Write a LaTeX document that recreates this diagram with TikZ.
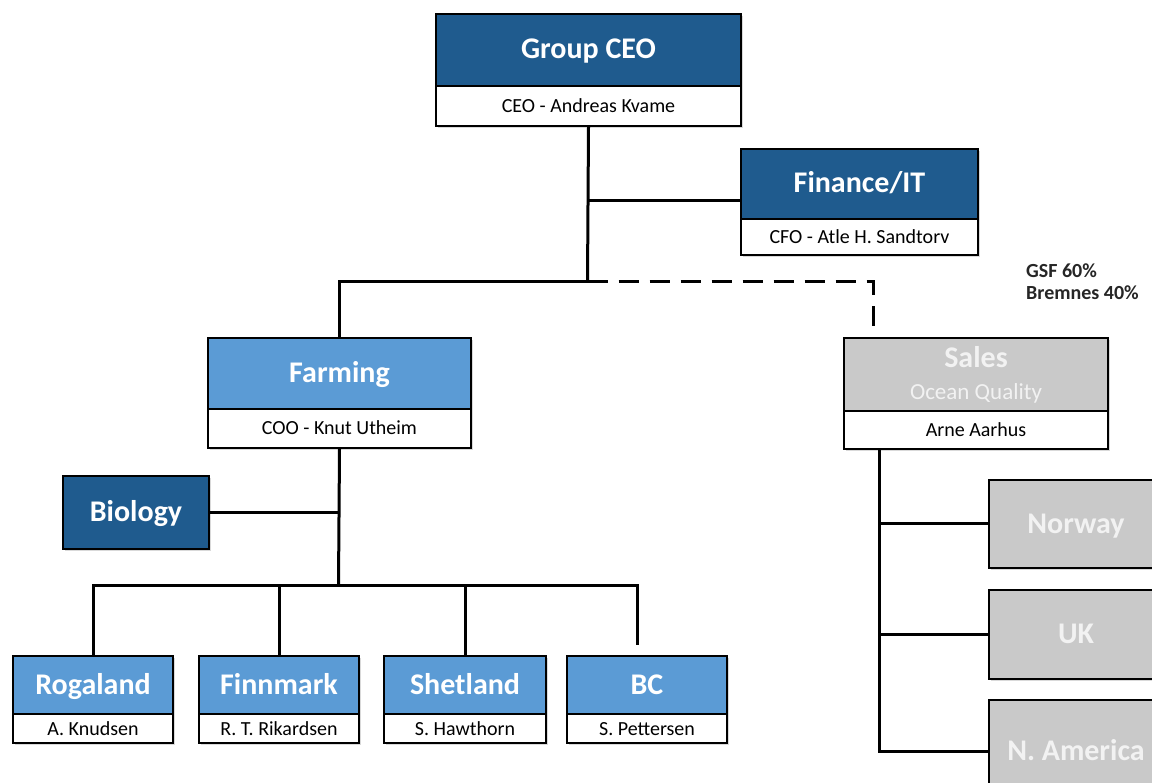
\documentclass[tikz,border=0pt]{standalone}
\usepackage{fontspec}
\setmainfont{Carlito}
\usetikzlibrary{positioning}
\usetikzlibrary{shadows}
\definecolor{navy}{RGB}{31,91,142}
\definecolor{sky}{RGB}{91,155,213}
\definecolor{silver}{RGB}{201,201,201}
\definecolor{paletext}{RGB}{242,242,242}

\begin{document}
\begin{tikzpicture}[x=1pt,y=-1pt,
  box/.style={draw=black, line width=2pt, inner sep=0pt, align=center,
    drop shadow={shadow xshift=2pt, shadow yshift=-2pt, opacity=0.3}},
  panel/.style={box, fill=#1, text=white, anchor=north west,
    font=\fontsize{30}{34}\selectfont\bfseries},
  unitbox/.style={panel=#1, text height=22pt, text depth=4pt},
  persbox/.style={box, fill=white, text=black, text height=15pt, text depth=2pt,
    font=\fontsize{20}{24}\selectfont},
  wire/.style={line width=3pt},
  dashwire/.style={wire, dash pattern=on 20pt off 11pt},
]

\useasboundingbox (0,0) rectangle (1152,783);
\clip (0,0) rectangle (1152,783);

%---------------------------------------
% Top: group management
%---------------------------------------
\node[unitbox=navy, minimum width=305pt, minimum height=72pt] (ceo) at (435,13) {Group CEO};
\node[persbox, minimum width=305pt, minimum height=40pt, below=-2pt of ceo] (ceoname) {CEO - Andreas Kvame};

\node[unitbox=navy, minimum width=237pt, minimum height=70pt] (finance) at (740,148) {Finance/IT};
\node[persbox, minimum width=237pt, minimum height=36pt, below=-2pt of finance] (financename) {CFO - Atle H. Sandtorv};

%---------------------------------------
% Farming and Sales
%---------------------------------------
\node[unitbox=sky, minimum width=263pt, minimum height=71pt] (farming) at (207,337) {Farming};
\node[persbox, minimum width=263pt, minimum height=39pt, below=-2pt of farming] (farmingname) {COO - Knut Utheim};

\node[panel=silver, text=paletext, minimum width=264pt, minimum height=73pt] (sales) at (843,337)
  {Sales\\[-2pt]{\fontsize{23}{26}\selectfont\mdseries Ocean Quality}};
\node[persbox, minimum width=264pt, minimum height=38pt, below=-2pt of sales] (salesname) {Arne Aarhus};

\node[anchor=north west, align=left, inner sep=0pt, text=black!85,
  font=\fontsize{20}{22}\selectfont\bfseries] (owners) at (1026,264) {GSF 60\%\\Bremnes 40\%};

\node[unitbox=navy, minimum width=146pt, minimum height=73pt] (biology) at (62,475) {Biology};

%---------------------------------------
% Regions
%---------------------------------------
\node[unitbox=sky, minimum width=160pt, minimum height=58pt] (rogaland) at (12,655) {Rogaland};
\node[persbox, minimum width=160pt, minimum height=29pt, below=-2pt of rogaland] (rogalandname) {A. Knudsen};

\node[unitbox=sky, minimum width=160pt, minimum height=58pt] (finnmark) at (198,655) {Finnmark};
\node[persbox, minimum width=160pt, minimum height=29pt, below=-2pt of finnmark] (finnmarkname) {R. T. Rikardsen};

\node[unitbox=sky, minimum width=162pt, minimum height=58pt] (shetland) at (383,655) {Shetland};
\node[persbox, minimum width=162pt, minimum height=29pt, below=-2pt of shetland] (shetlandname) {S. Hawthorn};

\node[unitbox=sky, minimum width=160pt, minimum height=58pt] (bc) at (566,655) {BC};
\node[persbox, minimum width=160pt, minimum height=29pt, below=-2pt of bc] (bcname) {S. Pettersen};

% Sales markets
\node[unitbox=silver, text=paletext, minimum width=174pt, minimum height=88pt] (norway) at (988,479) {Norway};
\node[unitbox=silver, text=paletext, minimum width=174pt, minimum height=89pt] (uk) at (988,589) {UK};
\node[unitbox=silver, text=paletext, minimum width=174pt, minimum height=102pt] (namerica) at (988,699) {N. America};

%---------------------------------------
% Connectors
%---------------------------------------
\coordinate (split) at (587.5,282);
\coordinate (finjoin) at (587.5,201);
\coordinate (salestap) at (873,337);
\draw[wire] (ceoname.south) -- (split);
\draw[wire] (finjoin) -- (finjoin -| finance.west);
\draw[wire] (split) -| (farming.north);
\draw[dashwire] (split) -| (salestap);

\coordinate (farmsplit) at (338.5,585);
\coordinate (bcjoin) at (637,585);
\coordinate (bcend) at (637,645);
\draw[wire] (farmingname.south) -- (farmsplit);
\draw[wire] (biology.east) -- (biology.east -| farmsplit);
\draw[wire] (rogaland.north) |- (bcjoin) -- (bcend);
\draw[wire] (finnmark.north) -- (finnmark.north |- farmsplit);
\draw[wire] (shetland.north) -- (shetland.north |- farmsplit);

\coordinate (salesstem) at (salesname.south -| 879,0);
\draw[wire] (salesstem) |- (namerica.west);
\draw[wire] (salesstem |- norway.west) -- (norway.west);
\draw[wire] (salesstem |- uk.west) -- (uk.west);

\end{tikzpicture}
\end{document}
